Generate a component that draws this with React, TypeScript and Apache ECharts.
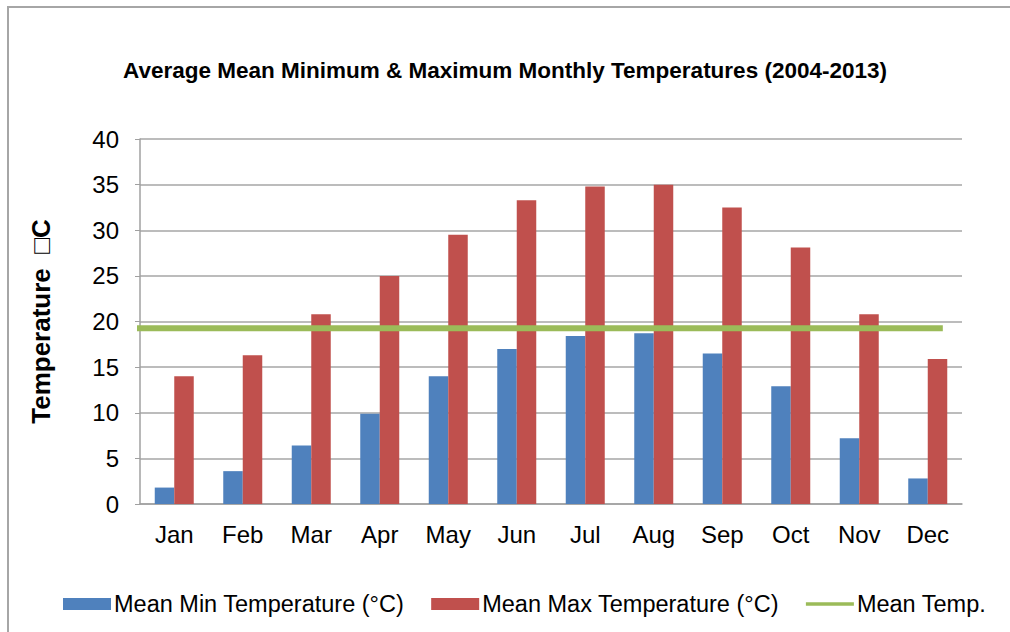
import React, { useEffect, useRef } from "react";
import * as echarts from "echarts";

const months = ["Jan", "Feb", "Mar", "Apr", "May", "Jun", "Jul", "Aug", "Sep", "Oct", "Nov", "Dec"];
const meanMin = [1.8, 3.6, 6.4, 9.9, 14.0, 17.0, 18.4, 18.7, 16.5, 12.9, 7.2, 2.8];
const meanMax = [14.0, 16.3, 20.8, 25.0, 29.5, 33.3, 34.8, 35.0, 32.5, 28.1, 20.8, 15.9];
const meanTemp = 19.25;
// extent of the mean line along the month axis (in month units, 0 = left edge of Jan)
const meanTempSpan = [-0.06, 11.72];
const yTicks = { min: 0, max: 40, interval: 5 };

const seriesNames = ["Mean Min Temperature (°C)", "Mean Max Temperature (°C)", "Mean Temp."];
const titleText = "Average Mean Minimum & Maximum Monthly Temperatures (2004-2013)";
const yName = "Temperature  □C";

export default function App() {
  const ref = useRef<HTMLDivElement>(null);
  useEffect(() => {
    document.body.style.margin = "0";
    const chart = echarts.init(ref.current!, null, { renderer: "svg" });
    const font = "Liberation Sans, Arial, sans-serif";
    chart.setOption({
      animation: false,
      backgroundColor: "#fff",
      textStyle: { fontFamily: font },
      title: {
        text: titleText,
        left: "center",
        top: 54,
        textStyle: { fontSize: 22.5, fontWeight: "bold", color: "#000", fontFamily: font },
      },
      graphic: [
        {
          type: "rect",
          shape: { x: 8, y: 7, width: 1100, height: 700 },
          style: { fill: "none", stroke: "#a6a6a6", lineWidth: 2 },
          silent: true,
        },
      ],
      legend: {
        left: 58,
        top: 587,
        itemWidth: 48,
        itemHeight: 12,
        itemGap: 27,
        textStyle: { fontSize: 23.5, color: "#000", fontFamily: font, padding: [0, 0, 0, -2] },
        data: [
          { name: seriesNames[0], icon: "rect" },
          { name: seriesNames[1], icon: "rect" },
          { name: seriesNames[2], icon: "path://M0,0 L52,0 L52,4 L0,4 Z" },
        ],
      },
      grid: { left: 140, right: 48, top: 139, bottom: 128 },
      xAxis: [
        {
          type: "category",
          data: months,
          axisTick: { show: false },
          axisLine: { lineStyle: { color: "#a0a0a0", width: 1.5 } },
          axisLabel: { fontSize: 24, color: "#000", margin: 18, fontFamily: font },
        },
        {
          type: "value",
          min: 0,
          max: 12,
          show: false,
        },
      ],
      yAxis: {
        type: "value",
        min: yTicks.min,
        max: yTicks.max,
        interval: yTicks.interval,
        name: yName,
        nameLocation: "middle",
        nameRotate: 90,
        nameGap: 86,
        nameTextStyle: { fontSize: 26, fontWeight: "bold", color: "#000", fontFamily: font },
        axisLine: { show: true, lineStyle: { color: "#a0a0a0", width: 1.5 } },
        axisTick: { show: true, length: 5, lineStyle: { color: "#a0a0a0" } },
        axisLabel: { fontSize: 24, color: "#000", margin: 21, fontFamily: font },
        splitLine: { lineStyle: { color: "#a6a6a6", width: 1.5 } },
      },
      series: [
        {
          name: seriesNames[0],
          type: "bar",
          data: meanMin,
          barWidth: 19.5,
          barGap: "0%",
          itemStyle: { color: "#4f81bd" },
        },
        {
          name: seriesNames[1],
          type: "bar",
          data: meanMax,
          barWidth: 19.5,
          barGap: "0%",
          itemStyle: { color: "#c0504d" },
        },
        {
          name: seriesNames[2],
          type: "line",
          xAxisIndex: 1,
          data: meanTempSpan.map((x) => [x, meanTemp]),
          symbol: "none",
          clip: false,
          z: 5,
          lineStyle: { color: "#9bbb59", width: 6 },
          itemStyle: { color: "#9bbb59" },
        },
      ],
    });
    return () => chart.dispose();
  }, []);
  return <div ref={ref} style={{ width: 1010, height: 632 }} />;
}
